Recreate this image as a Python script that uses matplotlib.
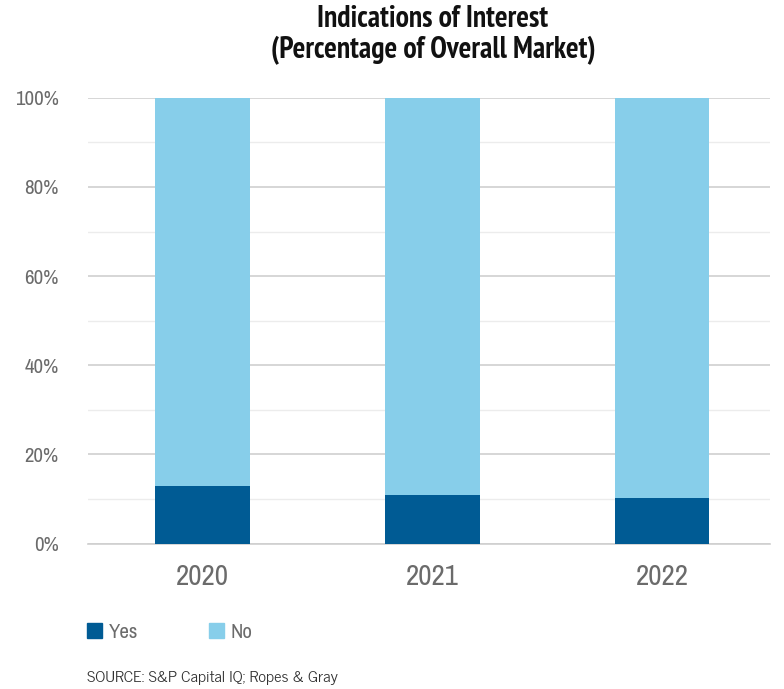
import matplotlib.pyplot as plt
from matplotlib.patches import Patch
from matplotlib.ticker import MultipleLocator, FuncFormatter

# Indications of interest, share of overall market (%)
years = ['2020', '2021', '2022']
yes_pct = [12.8, 10.8, 10.1]
no_pct = [100 - v for v in yes_pct]

dark_blue = '#005b94'
light_blue = '#87ceea'
grey_text = '#6b6b6b'
narrow = ['Archivo Narrow', 'DejaVu Sans']

plt.rcParams['font.family'] = narrow

fig = plt.figure(figsize=(7.84, 6.89), dpi=100)
ax = fig.add_axes([88 / 784, 145.5 / 689, 682 / 784, 445.7 / 689])

x = range(len(years))
ax.bar(x, yes_pct, width=0.413, color=dark_blue, zorder=3)
ax.bar(x, no_pct, width=0.413, bottom=yes_pct, color=light_blue, zorder=3)

ax.set_ylim(0, 100)
ax.set_xlim(-0.5, 2.47)
ax.yaxis.set_major_locator(MultipleLocator(20))
ax.yaxis.set_minor_locator(MultipleLocator(10))
ax.yaxis.set_major_formatter(FuncFormatter(lambda v, p: f'{v:.0f}%'))
ax.grid(axis='y', which='major', color='#cfcfcf', linewidth=1.2, zorder=0)
ax.grid(axis='y', which='minor', color='#ececec', linewidth=1.0, zorder=0)

ax.set_xticks(list(x))
ax.set_xticklabels(years)
ax.tick_params(axis='x', length=0, pad=14, labelsize=21, labelcolor=grey_text)
ax.tick_params(axis='y', which='both', length=0, pad=21, labelsize=15, labelcolor=grey_text)

for side in ['top', 'right', 'left']:
    ax.spines[side].set_visible(False)
ax.spines['bottom'].set_color('#cfcfcf')
ax.spines['bottom'].set_linewidth(1.2)

fig.text(433 / 784, 1 - 35 / 689, 'Indications of Interest\n(Percentage of Overall Market)',
         ha='center', va='center', fontsize=21.5, fontweight='bold', linespacing=1.1,
         color='#111111', family=['PT Sans Narrow', 'DejaVu Sans'])

handles = [Patch(color=dark_blue, label='Yes'), Patch(color=light_blue, label='No')]
fig.legend(handles=handles, loc='center left', bbox_to_anchor=(68 / 784, 1 - 632 / 689),
           ncol=2, frameon=False, fontsize=15, handlelength=0.75, handleheight=0.75,
           handletextpad=0.3, columnspacing=3.4, labelcolor=grey_text)

fig.text(87 / 784, 1 - 678 / 689, 'SOURCE: S&P Capital IQ; Ropes & Gray',
         ha='left', va='center', fontsize=11.8, color='#333333',
         family=['News Cycle', 'DejaVu Sans'])

fig.savefig('out.png', dpi=100)
